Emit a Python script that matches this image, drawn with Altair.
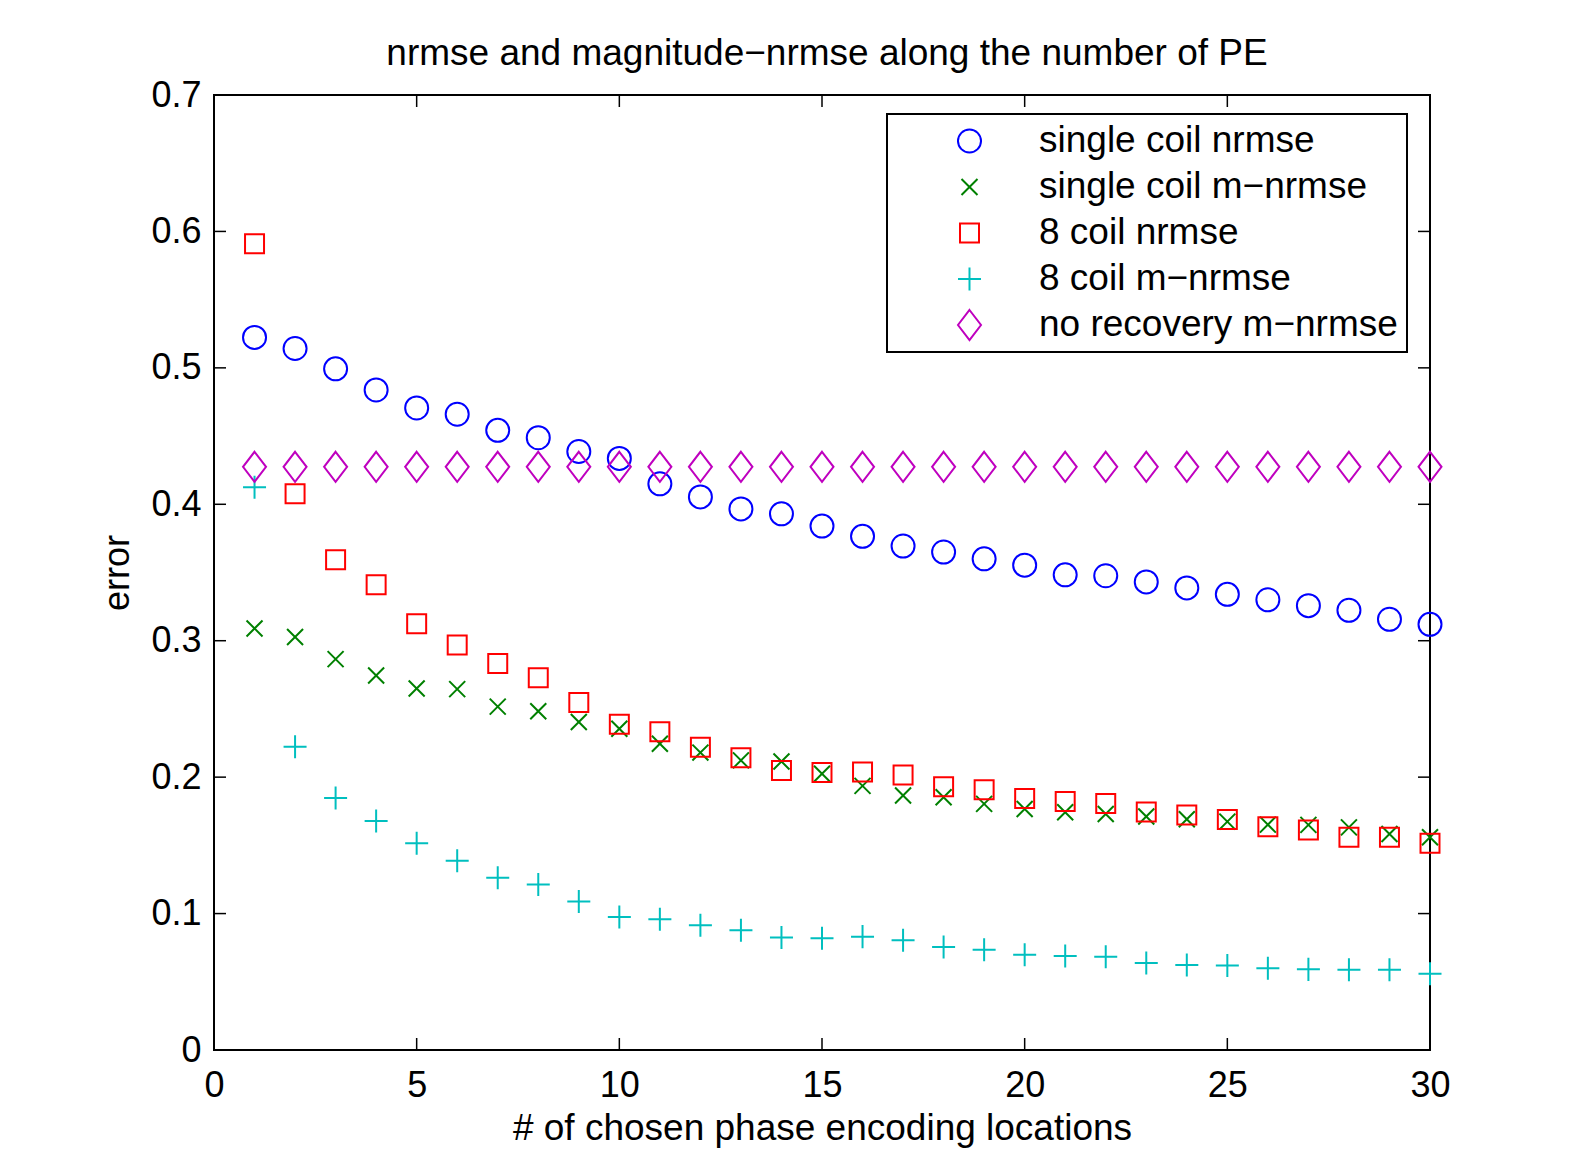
import altair as alt
import pandas as pd

# ---- data ----
pe = list(range(1, 31))

single_nrmse = [0.5223, 0.5142, 0.4993, 0.4838, 0.4706, 0.4660, 0.4542, 0.4488, 0.4387, 0.4336,
                0.4150, 0.4054, 0.3966, 0.3930, 0.3840, 0.3765, 0.3694, 0.3650, 0.3600, 0.3554,
                0.3483, 0.3476, 0.3431, 0.3387, 0.3340, 0.3300, 0.3257, 0.3223, 0.3157, 0.3120]
single_mnrmse = [0.3090, 0.3027, 0.2865, 0.2745, 0.2650, 0.2645, 0.2517, 0.2483, 0.2404, 0.2355,
                 0.2245, 0.2180, 0.2123, 0.2115, 0.2025, 0.1936, 0.1865, 0.1853, 0.1804, 0.1767,
                 0.1743, 0.1730, 0.1711, 0.1691, 0.1674, 0.1652, 0.1650, 0.1632, 0.1583, 0.1559]
coil8_nrmse = [0.5910, 0.4078, 0.3593, 0.3410, 0.3125, 0.2968, 0.2833, 0.2728, 0.2547, 0.2387,
               0.2333, 0.2219, 0.2142, 0.2049, 0.2034, 0.2037, 0.2015, 0.1929, 0.1907, 0.1843,
               0.1821, 0.1806, 0.1745, 0.1723, 0.1689, 0.1637, 0.1613, 0.1559, 0.1559, 0.1515]
coil8_mnrmse = [0.4125, 0.2223, 0.1848, 0.1679, 0.1515, 0.1387, 0.1262, 0.1213, 0.1088, 0.0975,
                0.0958, 0.0914, 0.0877, 0.0824, 0.0819, 0.0831, 0.0804, 0.0755, 0.0735, 0.0699,
                0.0689, 0.0684, 0.0637, 0.0623, 0.0620, 0.0600, 0.0591, 0.0588, 0.0588, 0.0559]
norecovery_mnrmse = [0.4275] * 30

series_names = ["single coil nrmse", "single coil m\u2212nrmse", "8 coil nrmse",
                "8 coil m\u2212nrmse", "no recovery m\u2212nrmse"]
series_values = [single_nrmse, single_mnrmse, coil8_nrmse, coil8_mnrmse, norecovery_mnrmse]
series_colors = ["#0000FF", "#008000", "#FF0000", "#00BFBF", "#BF00BF"]
# marker outlines (unit box -1..1 is 30 px at the mark size used)
series_shapes = [
    "M-0.767,0A0.767,0.767 0 1,0 0.767,0A0.767,0.767 0 1,0 -0.767,0Z",   # circle
    "M-0.533,-0.533L0.533,0.533M-0.533,0.533L0.533,-0.533",              # x
    "M-0.633,-0.633H0.633V0.633H-0.633Z",                                 # square
    "M-0.767,0L0.767,0M0,-0.767L0,0.767",                                 # plus
    "M0,-1L0.767,0L0,1L-0.767,0Z",                                        # diamond
]

x_ticks = [0, 5, 10, 15, 20, 25, 30]
y_ticks = [0, 0.1, 0.2, 0.3, 0.4, 0.5, 0.6, 0.7]

title_text = "nrmse and magnitude\u2212nrmse along the number of PE"
x_title = "# of chosen phase encoding locations"
y_title = "error"

rows = []
for k, (name, vals) in enumerate(zip(series_names, series_values)):
    for x, v in zip(pe, vals):
        rows.append({"pe": x, "error": v, "series": name, "idx": k * 100 + x})
df = pd.DataFrame(rows)

W, H = 1216, 955
FONT = "Liberation Sans"
MARK_SIZE = 900

xscale = alt.Scale(domain=[0, 30], nice=False, zero=False)
yscale = alt.Scale(domain=[0, 0.7], nice=False)

points = alt.Chart(df).mark_point(filled=False, strokeWidth=2, opacity=1,
                                  size=MARK_SIZE).encode(
    x=alt.X("pe:Q", scale=xscale,
            axis=alt.Axis(values=x_ticks, title=x_title, ticks=False, tickSize=0,
                          labelPadding=18, grid=False, domain=False, labelFlush=False,
                          titleY=89, titleBaseline="alphabetic", titleFontSize=37)),
    y=alt.Y("error:Q", scale=yscale,
            axis=alt.Axis(values=y_ticks, title=y_title, ticks=False, tickSize=0,
                          labelPadding=13, grid=False, domain=False, labelFlush=False,
                          labelExpr="datum.value == 0 ? '0' : format(datum.value, '.1f')",
                          titleX=-86, titleBaseline="alphabetic", titleAngle=270)),
    color=alt.Color("series:N",
                    scale=alt.Scale(domain=series_names, range=series_colors),
                    legend=alt.Legend(title=None, orient="none", legendX=673, legendY=19,
                                      clipHeight=36, rowPadding=9, padding=9,
                                      symbolOffset=55, labelOffset=51,
                                      symbolSize=MARK_SIZE,
                                      labelFontSize=37, labelFont=FONT, labelColor="black",
                                      labelLimit=800,
                                      symbolStrokeWidth=2, strokeColor="black",
                                      fillColor="white")),
    shape=alt.Shape("series:N", scale=alt.Scale(domain=series_names, range=series_shapes)),
    order=alt.Order("idx:Q"),
)

xt = pd.DataFrame({"v": x_ticks})
yt = pd.DataFrame({"v": y_ticks})
tick_style = dict(color="black", strokeWidth=1.5)

bottom_ticks = alt.Chart(xt).mark_rule(**tick_style).encode(
    x=alt.X("v:Q", scale=xscale), y=alt.value(H), y2=alt.value(H - 12))
top_ticks = alt.Chart(xt).mark_rule(**tick_style).encode(
    x=alt.X("v:Q", scale=xscale), y=alt.value(0), y2=alt.value(12))
left_ticks = alt.Chart(yt).mark_rule(**tick_style).encode(
    y=alt.Y("v:Q", scale=yscale), x=alt.value(0), x2=alt.value(12))
right_ticks = alt.Chart(yt).mark_rule(**tick_style).encode(
    y=alt.Y("v:Q", scale=yscale), x=alt.value(W), x2=alt.value(W - 12))

chart = alt.layer(bottom_ticks, top_ticks, left_ticks, right_ticks, points).properties(
    width=W, height=H,
    background="white",
    title=alt.Title(title_text, fontSize=37, font=FONT, fontWeight="normal",
                    color="black", offset=4, dx=5),
    autosize=alt.AutoSizeParams(type="none"),
    padding={"left": 206, "top": 87, "right": 134, "bottom": 116},
).configure_view(
    stroke="black", strokeWidth=2
).configure_axis(
    labelFont=FONT, labelFontSize=36, labelColor="black",
    titleFont=FONT, titleFontSize=36, titleColor="black", titleFontWeight="normal",
).configure_legend(
    strokeWidth=2
)

chart.save("out.html", embed_options={"renderer": "svg", "actions": False})
